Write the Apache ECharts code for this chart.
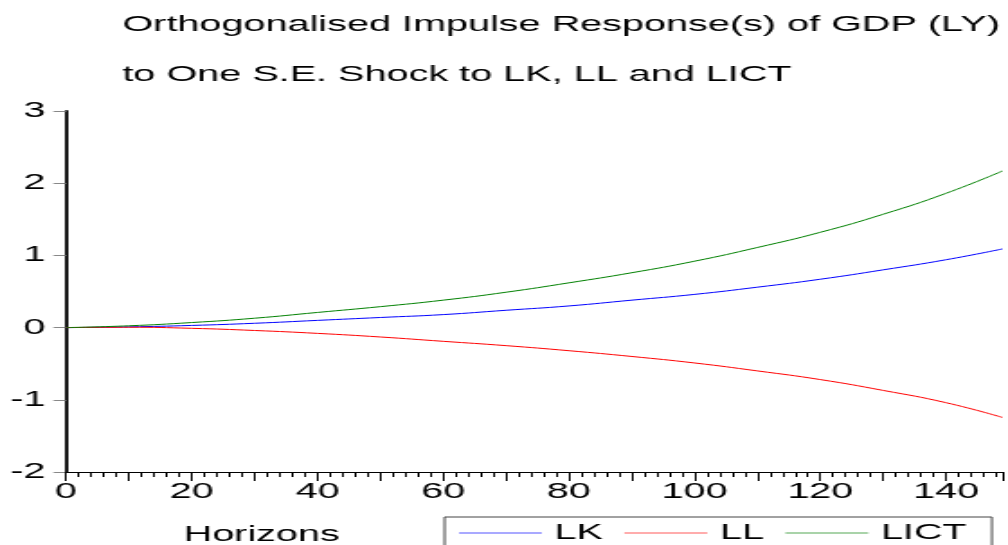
<!DOCTYPE html>
<html>
<head>
<meta charset="utf-8">
<script src="https://cdn.jsdelivr.net/npm/echarts@6/dist/echarts.min.js"></script>
<style>
html,body{margin:0;padding:0;background:#fff;overflow:hidden;width:1008px;height:545px}
#c{width:560px;height:545px;transform:scale(1.8,1);transform-origin:0 0}
</style>
</head>
<body>
<div id="c"></div>
<script>
var horizons = [0, 10, 20, 30, 40, 50, 60, 70, 80, 90, 100, 110, 120, 130, 140, 149];
var lk   = [0, 0.01, 0.03, 0.06, 0.10, 0.14, 0.18, 0.24, 0.30, 0.38, 0.46, 0.56, 0.67, 0.80, 0.94, 1.09];
var ll   = [0, 0.005, -0.01, -0.04, -0.08, -0.13, -0.19, -0.25, -0.32, -0.40, -0.49, -0.60, -0.72, -0.87, -1.04, -1.245];
var lict = [0, 0.025, 0.07, 0.13, 0.21, 0.29, 0.38, 0.49, 0.62, 0.76, 0.92, 1.11, 1.32, 1.57, 1.86, 2.17];
var seriesNames = ['LK', 'LL', 'LICT'];
var titleLines = ['Orthogonalised Impulse Response(s) of GDP (LY)', 'to One S.E. Shock to LK, LL and LICT'];
var xTitle = 'Horizons';

function pairs(ys) { return horizons.map(function (h, i) { return [h, ys[i]]; }); }
var FONT = '"Liberation Sans", Arial, sans-serif';
var chart = echarts.init(document.getElementById('c'));
chart.setOption({
  animation: false,
  backgroundColor: '#fff',
  title: {
    text: titleLines.join('\n'),
    left: 68, top: 0, padding: 0,
    textStyle: { fontFamily: FONT, fontSize: 22, fontWeight: 'normal', color: '#000', lineHeight: 50 }
  },
  graphic: [{
    type: 'text', left: 102, top: 524,
    style: { text: xTitle, font: '22px ' + FONT, fill: '#000' }
  }],
  legend: {
    left: 247, top: 517,
    padding: [5, 14, 8, 8],
    borderColor: '#444', borderWidth: 1, backgroundColor: '#fff',
    itemWidth: 46, itemHeight: 1.5, itemGap: 12, icon: 'rect',
    textStyle: { fontFamily: FONT, fontSize: 22, color: '#000', padding: [0, 0, 0, 2] },
    data: [
      { name: 'LK', itemStyle: { color: '#8c8cff' } },
      { name: 'LL', itemStyle: { color: '#ff9090' } },
      { name: 'LICT', itemStyle: { color: '#8cc48c' } }
    ]
  },
  grid: { left: 36.7, right: 0, top: 111, bottom: 73, containLabel: false },
  xAxis: {
    type: 'value', min: 0, max: 149, interval: 10,
    axisLine: { onZero: false, lineStyle: { color: '#000', width: 1 } },
    axisTick: { length: 9, lineStyle: { color: '#000', width: 1 } },
    minorTick: { show: true, splitNumber: 5, length: 5, lineStyle: { color: '#000', width: 1 } },
    splitLine: { show: false },
    axisLabel: {
      margin: 9, fontFamily: FONT, fontSize: 22, color: '#000',
      formatter: function (v) { return v % 20 === 0 ? String(v) : ''; }
    }
  },
  yAxis: {
    type: 'value', min: -2, max: 3, interval: 1,
    axisLine: { show: true, onZero: false, lineStyle: { color: '#000', width: 1.8 } },
    axisTick: { show: true, length: 7, lineStyle: { color: '#888', width: 1 } },
    splitLine: { show: false },
    axisLabel: { margin: 11.5, fontFamily: FONT, fontSize: 22, color: '#000' }
  },
  series: [
    { name: seriesNames[0], type: 'line', data: pairs(lk), smooth: true, showSymbol: false,
      lineStyle: { color: '#0000ff', width: 1 }, itemStyle: { color: '#0000ff' } },
    { name: seriesNames[1], type: 'line', data: pairs(ll), smooth: true, showSymbol: false,
      lineStyle: { color: '#ff0000', width: 1 }, itemStyle: { color: '#ff0000' } },
    { name: seriesNames[2], type: 'line', data: pairs(lict), smooth: true, showSymbol: false,
      lineStyle: { color: '#008000', width: 1 }, itemStyle: { color: '#008000' } }
  ]
});
</script>
</body>
</html>
